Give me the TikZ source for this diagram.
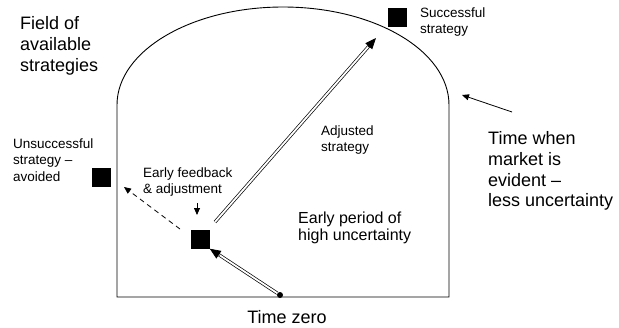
\documentclass[tikz,border=0pt]{standalone}
\usepackage{fontspec}
\setmainfont{Liberation Sans}
\usetikzlibrary{arrows.meta,calc}

\tikzset{
  sq/.style={fill=black, minimum size=19pt, inner sep=0pt},
  lbl/.style={anchor=west, align=left, inner sep=0pt},
  smalltxt/.style={font=\fontsize{13.5}{16.5}\selectfont},
  bigtxt/.style={font=\fontsize{18}{20.7}\selectfont},
  dbl/.style={double, double distance=1.8pt, line width=0.7pt, shorten >=7pt},
  head/.style={line width=0.7pt, -{Triangle[length=11pt,width=9pt]}},
  thin/.style={line width=0.8pt, -{Triangle[length=7pt,width=6pt]}}
}

\begin{document}
\begin{tikzpicture}[x=1pt,y=1pt]
            \useasboundingbox (0,0) rectangle (619,-327);
            % the field
            \draw[line width=0.9pt] (117,-105) -- (117,-297) -- (449,-297) -- (449,-105)
                arc[start angle=0, end angle=180, x radius=166, y radius=98];
            % strategies
            \node[sq] (succ) at (397,-17) {};
            \node[sq] (unsucc) at (101,-177) {};
            \node[sq] (early) at (200,-239) {};
            \node[circle, fill=black, minimum size=6pt, inner sep=0pt] (zero) at (280,-295) {};
            \coordinate (adjfrom) at (215,-222);
            \coordinate (adjto) at (376,-38);
            \coordinate (dashfrom) at (180,-229);
            \coordinate (dashto) at (124,-187);
            \coordinate (fbfrom) at (197,-203);
            \coordinate (fbto) at (197,-215);
            \coordinate (tmfrom) at (512,-112);
            \coordinate (tmto) at (462,-95);
            % arrows
            \draw[dbl] (zero) -- (early.south east);
            \draw[head] ($(early.south east)!12pt!(zero)$) -- (early.south east);
            \draw[dbl] (adjfrom) -- (adjto);
            \draw[head] ($(adjto)!12pt!(adjfrom)$) -- (adjto);
            \draw[thin, dashed, dash pattern=on 5pt off 4pt] (dashfrom) -- (dashto);
            \draw[thin] (fbfrom) -- (fbto);
            \draw[thin] (tmfrom) -- (tmto);
            % labels
            \node[lbl, bigtxt] (field) at (20,-46) {Field of\\available\\strategies};
            \node[lbl, smalltxt] (succtxt) at (420,-22) {Successful\\strategy};
            \node[lbl, smalltxt] (unsucctxt) at (13,-160) {Unsuccessful\\strategy --\\avoided};
            \node[lbl, smalltxt] (fbtxt) at (143,-182) {Early feedback\\\& adjustment};
            \node[lbl, smalltxt] (adjtxt) at (321,-140) {Adjusted\\strategy};
            \node[lbl, font=\fontsize{16}{17.5}\selectfont] (hightxt) at (298,-228) {Early period of\\high uncertainty};
            \node[lbl, bigtxt] (tmtxt) at (488,-171) {Time when\\market is\\evident --\\less uncertainty};
            \node[bigtxt, inner sep=0pt] (zerotxt) at (287,-317) {Time zero};
        \end{tikzpicture}
\end{document}
